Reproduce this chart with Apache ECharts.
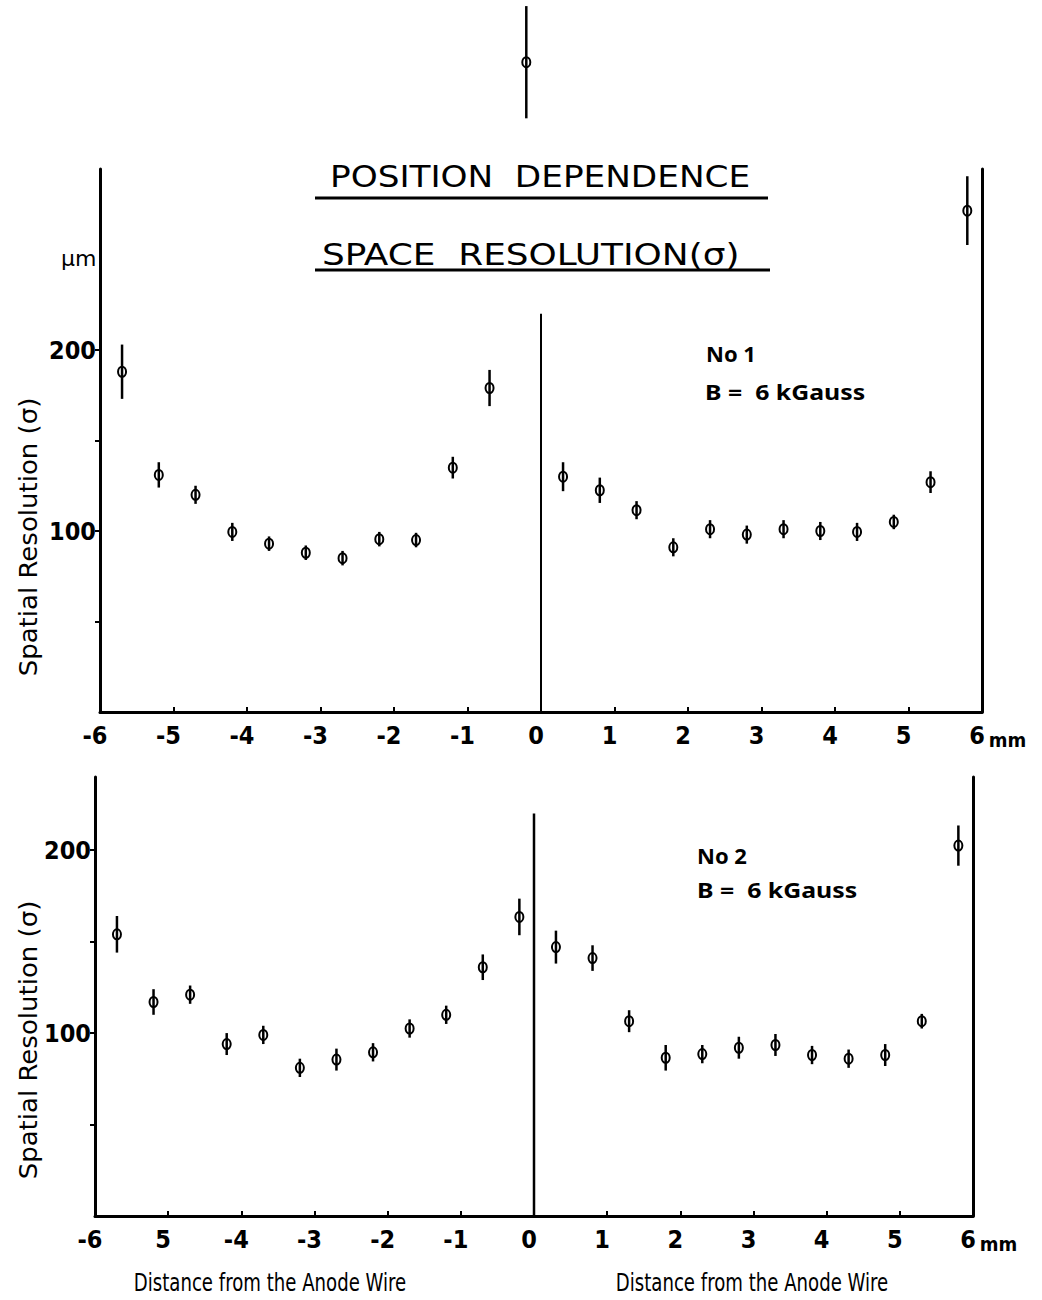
<!DOCTYPE html>
<html><head><meta charset="utf-8">
<script src="https://cdn.jsdelivr.net/npm/echarts@6/dist/echarts.min.js"></script>
<style>html,body{margin:0;padding:0;background:#fff}#chart{width:1042px;height:1300px}</style>
</head><body><div id="chart"></div>
<script>
// distance from anode wire (mm)
const positions = [-5.7,-5.2,-4.7,-4.2,-3.7,-3.2,-2.7,-2.2,-1.7,-1.2,-0.7,-0.2,0.3,0.8,1.3,1.8,2.3,2.8,3.3,3.8,4.3,4.8,5.3,5.8];
// chamber No 1, spatial resolution sigma (um) and error
const no1Sigma = [188,131,120,99.5,93,88,85,95.5,95,135,179,359,130,122.5,111.5,91,101,98,101,100,99.5,105,127,277];
const no1Error = [15,7,5,5,4,4,4,4,4,6,10,31,8,7,5,5,5,5,5,5,5,4,6,19];
// chamber No 2
const no2Sigma = [154,117,121,94,99,81,85.5,89.5,102.5,110,136,163.5,147,141,106.5,86.5,88.5,92,93.5,88,86,88,106.5,202.5];
const no2Error = [10,7,5,6,5,5,6,5,5,5,7,10,9,7,6,7,5,6,6,5,5,6,4,11];
// tick labels
const topTickLabels = ['-6','-5','-4','-3','-2','-1','0','1','2','3','4','5','6'];
const bottomTickLabels = ['-6','5','-4','-3','-2','-1','0','1','2','3','4','5','6'];
const yTickLabels = {100:'100',200:'200'};
const yTickValues = [50,100,150,200];
// anode wire marker line (x=0)
const anodeLine = [[0,0],[0,220]];

const chart = echarts.init(document.getElementById('chart'), null, {renderer:'svg'});

const tickFont = 'DejaVu Sans Condensed';

function errRender(params, api){
  const x = api.value(0), y = api.value(1), e = api.value(2);
  const c = api.coord([x,y]);
  const lo = api.coord([x,y-e]);
  const hi = api.coord([x,y+e]);
  return {type:'group', children:[
    {type:'line', shape:{x1:c[0],y1:hi[1],x2:c[0],y2:lo[1]}, style:{stroke:'#000',lineWidth:2.5}},
    {type:'ellipse', shape:{cx:c[0],cy:c[1],rx:4,ry:5}, style:{fill:'none',stroke:'#000',lineWidth:2}}
  ]};
}

function xAxisCfg(grid, labels){
  return {gridIndex:grid,type:'value',min:-6,max:6,interval:1,
    axisLine:{show:true,onZero:false,lineStyle:{color:'#000',width:3}},
    axisTick:{show:true,inside:true,length:5,lineStyle:{color:'#000',width:2}},
    axisLabel:{formatter:v=>labels[Math.round(v)+6],color:'#000',fontSize:25,fontWeight:'bold',fontFamily:tickFont,margin:11,padding:[0,10,0,0]},
    splitLine:{show:false},
    name:'mm',nameLocation:'end',nameGap:4,
    nameTextStyle:{color:'#000',fontSize:20,fontWeight:'bold',fontFamily:tickFont,verticalAlign:'top',align:'left',padding:[18,0,0,0]}
  };
}
function yAxisCfg(grid, max){
  return {gridIndex:grid,type:'value',min:0,max:max,interval:50,
    axisLine:{show:true,onZero:false,lineStyle:{color:'#000',width:3}},
    axisTick:{show:true,length:5,customValues:yTickValues,lineStyle:{color:'#000',width:2}},
    axisLabel:{formatter:v=>yTickLabels[v]||'',color:'#000',fontSize:25,fontWeight:'bold',fontFamily:tickFont,margin:4},
    splitLine:{show:false}
  };
}
function yRightCfg(grid, max){
  return {gridIndex:grid,type:'value',min:0,max:max,position:'right',
    axisLine:{show:true,onZero:false,lineStyle:{color:'#000',width:3}},
    axisTick:{show:false},axisLabel:{show:false},splitLine:{show:false}};
}
function txt(text,x,y,size,opts){
  opts = opts||{};
  return {type:'text',x:x,y:y,rotation:opts.rot||0,scaleX:opts.sx||1,scaleY:opts.sy||1,
    style:{text:text,fill:'#000',font:(opts.weight||'normal')+' '+size+'px '+(opts.family||'DejaVu Sans'),
      align:opts.align||'left',verticalAlign:'middle',textAlign:opts.align||'left',textVerticalAlign:'middle'}};
}
function uline(x1,x2,y){
  return {type:'line',shape:{x1:x1,y1:y,x2:x2,y2:y},style:{stroke:'#000',lineWidth:3}};
}

chart.setOption({
  animation:false,
  backgroundColor:'#fff',
  grid:[
    {left:100,top:169,width:882,height:543},
    {left:95,top:777,width:878,height:439}
  ],
  xAxis:[xAxisCfg(0,topTickLabels), xAxisCfg(1,bottomTickLabels)],
  yAxis:[yAxisCfg(0,300), yAxisCfg(1,240), yRightCfg(0,300), yRightCfg(1,240)],
  series:[
    {type:'line',xAxisIndex:0,yAxisIndex:0,data:anodeLine,symbol:'none',lineStyle:{color:'#000',width:2}},
    {type:'line',xAxisIndex:1,yAxisIndex:1,data:anodeLine,symbol:'none',lineStyle:{color:'#000',width:2.5}},
    {type:'custom',name:'No 1',xAxisIndex:0,yAxisIndex:0,clip:false,renderItem:errRender,
      data:positions.map((x,i)=>[x,no1Sigma[i],no1Error[i]])},
    {type:'custom',name:'No 2',xAxisIndex:1,yAxisIndex:1,clip:false,renderItem:errRender,
      data:positions.map((x,i)=>[x,no2Sigma[i],no2Error[i]])}
  ],
  graphic:[
    txt('POSITION  DEPENDENCE',330,177,30,{family:'DejaVu Sans Condensed',sx:1.27}),
    uline(315,768,198),
    txt('SPACE  RESOLUTION(σ)',322,254,30,{family:'DejaVu Sans Condensed',sx:1.33}),
    uline(315,770,270),
    txt('μm',61,258,22),
    txt('No 1',706,353,22,{family:'Noto Sans',weight:'bold'}),
    txt('B =  6 kGauss',705,392,22,{family:'Noto Sans',weight:'bold',sx:1.13}),
    txt('No 2',697,855,22,{family:'Noto Sans',weight:'bold'}),
    txt('B =  6 kGauss',697,890,22,{family:'Noto Sans',weight:'bold',sx:1.13}),
    txt('Spatial Resolution (σ)',28,537,25,{rot:Math.PI/2,align:'center',sx:1.04}),
    txt('Spatial Resolution (σ)',28,1040,25,{rot:Math.PI/2,align:'center',sx:1.04}),
    txt('Distance from the Anode Wire',270,1282,24,{family:'DejaVu Sans Condensed',align:'center',sx:0.84}),
    txt('Distance from the Anode Wire',752,1282,24,{family:'DejaVu Sans Condensed',align:'center',sx:0.84})
  ]
});
</script>
</body></html>
